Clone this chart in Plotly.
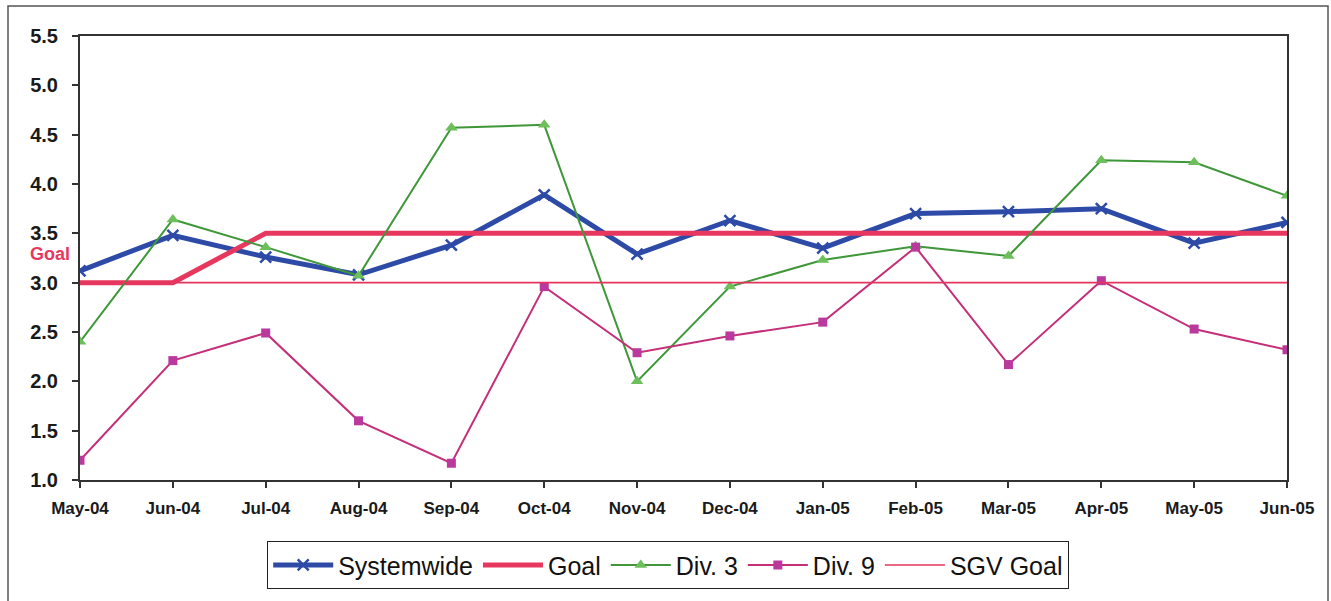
import plotly.graph_objects as go

months = ["May-04", "Jun-04", "Jul-04", "Aug-04", "Sep-04", "Oct-04", "Nov-04",
          "Dec-04", "Jan-05", "Feb-05", "Mar-05", "Apr-05", "May-05", "Jun-05"]

systemwide = [3.12, 3.48, 3.26, 3.08, 3.38, 3.89, 3.29, 3.63, 3.35, 3.70, 3.72, 3.75, 3.40, 3.61]
goal = [3.0, 3.0, 3.5, 3.5, 3.5, 3.5, 3.5, 3.5, 3.5, 3.5, 3.5, 3.5, 3.5, 3.5]
div3 = [2.40, 3.64, 3.36, 3.07, 4.57, 4.60, 2.00, 2.96, 3.23, 3.37, 3.27, 4.24, 4.22, 3.88]
div9 = [1.20, 2.21, 2.49, 1.60, 1.17, 2.96, 2.29, 2.46, 2.60, 3.36, 2.17, 3.02, 2.53, 2.32]
sgv_goal = [3.0] * len(months)

y_ticks = [1.0, 1.5, 2.0, 2.5, 3.0, 3.5, 4.0, 4.5, 5.0, 5.5]

FONT = "Liberation Sans, Arial, sans-serif"

fig = go.Figure()

fig.add_trace(go.Scatter(
    x=months, y=systemwide, name="Systemwide", mode="lines+markers",
    line=dict(color="#2D4AA6", width=5),
    marker=dict(symbol="x-thin", size=11, color="#2D4AA6",
                line=dict(color="#2D4AA6", width=2.5)),
))
fig.add_trace(go.Scatter(
    x=months, y=goal, name="Goal", mode="lines",
    line=dict(color="#E8375E", width=5),
))
fig.add_trace(go.Scatter(
    x=months, y=div3, name="Div. 3", mode="lines+markers",
    line=dict(color="#3F973A", width=2),
    marker=dict(symbol="triangle-up", size=11, color="#6CBF5A"),
))
fig.add_trace(go.Scatter(
    x=months, y=div9, name="Div. 9", mode="lines+markers",
    line=dict(color="#C42F78", width=2),
    marker=dict(symbol="square", size=9, color="#B9399C"),
))
fig.add_trace(go.Scatter(
    x=months, y=sgv_goal, name="SGV Goal", mode="lines",
    line=dict(color="#E3365E", width=1.6),
))

# plot area spans pixels 80..1287 horizontally and 36..480 vertically
PX_L, PX_R, PX_T, PX_B = 80, 1287, 36, 480
W, H = PX_R - PX_L, PX_B - PX_T


def px_x(p):
    return (p - PX_L) / W


def px_y(p):
    return (PX_B - p) / H


fig.update_layout(
    width=1331, height=601,
    margin=dict(l=PX_L, r=1331 - PX_R, t=PX_T, b=601 - PX_B),
    paper_bgcolor="white", plot_bgcolor="white",
    font=dict(family=FONT, color="#1a1a1a"),
    showlegend=True,
    legend=dict(
        orientation="h", x=px_x(668), xanchor="center", y=px_y(541), yanchor="top",
        font=dict(size=25, family=FONT, color="#111"),
        bordercolor="#222", borderwidth=1.2, bgcolor="white",
        itemwidth=60, tracegroupgap=0,
    ),
    xaxis=dict(
        type="category", range=[0, len(months) - 1],
        showline=True, linecolor="#333", linewidth=2, mirror=True,
        showgrid=False, ticks="outside", ticklen=6, tickwidth=1.5, tickcolor="#333",
        tickfont=dict(size=17, family=FONT, color="#1a1a1a", weight="bold"),
        ticklabelstandoff=6,
    ),
    yaxis=dict(
        range=[1.0, 5.5], tickvals=y_ticks, ticktext=[f"{v:.1f}" for v in y_ticks],
        showline=True, linecolor="#333", linewidth=2, mirror=True,
        showgrid=False, zeroline=False,
        ticks="outside", ticklen=6, tickwidth=1.5, tickcolor="#333",
        tickfont=dict(size=20, family=FONT, color="#1a1a1a", weight="bold"),
        ticklabelstandoff=10,
    ),
    shapes=[
        dict(type="rect", xref="paper", yref="paper",
             x0=px_x(8), x1=px_x(1328), y0=px_y(606), y1=px_y(6),
             line=dict(color="#555", width=1.5), fillcolor="rgba(0,0,0,0)", layer="below"),
    ],
    annotations=[
        dict(text="Goal", xref="paper", yref="y", x=px_x(50), y=3.29,
             xanchor="center", yanchor="middle", showarrow=False,
             font=dict(size=18, family=FONT, color="#E8375E", weight="bold")),
    ],
)

fig.write_html("out.html")
